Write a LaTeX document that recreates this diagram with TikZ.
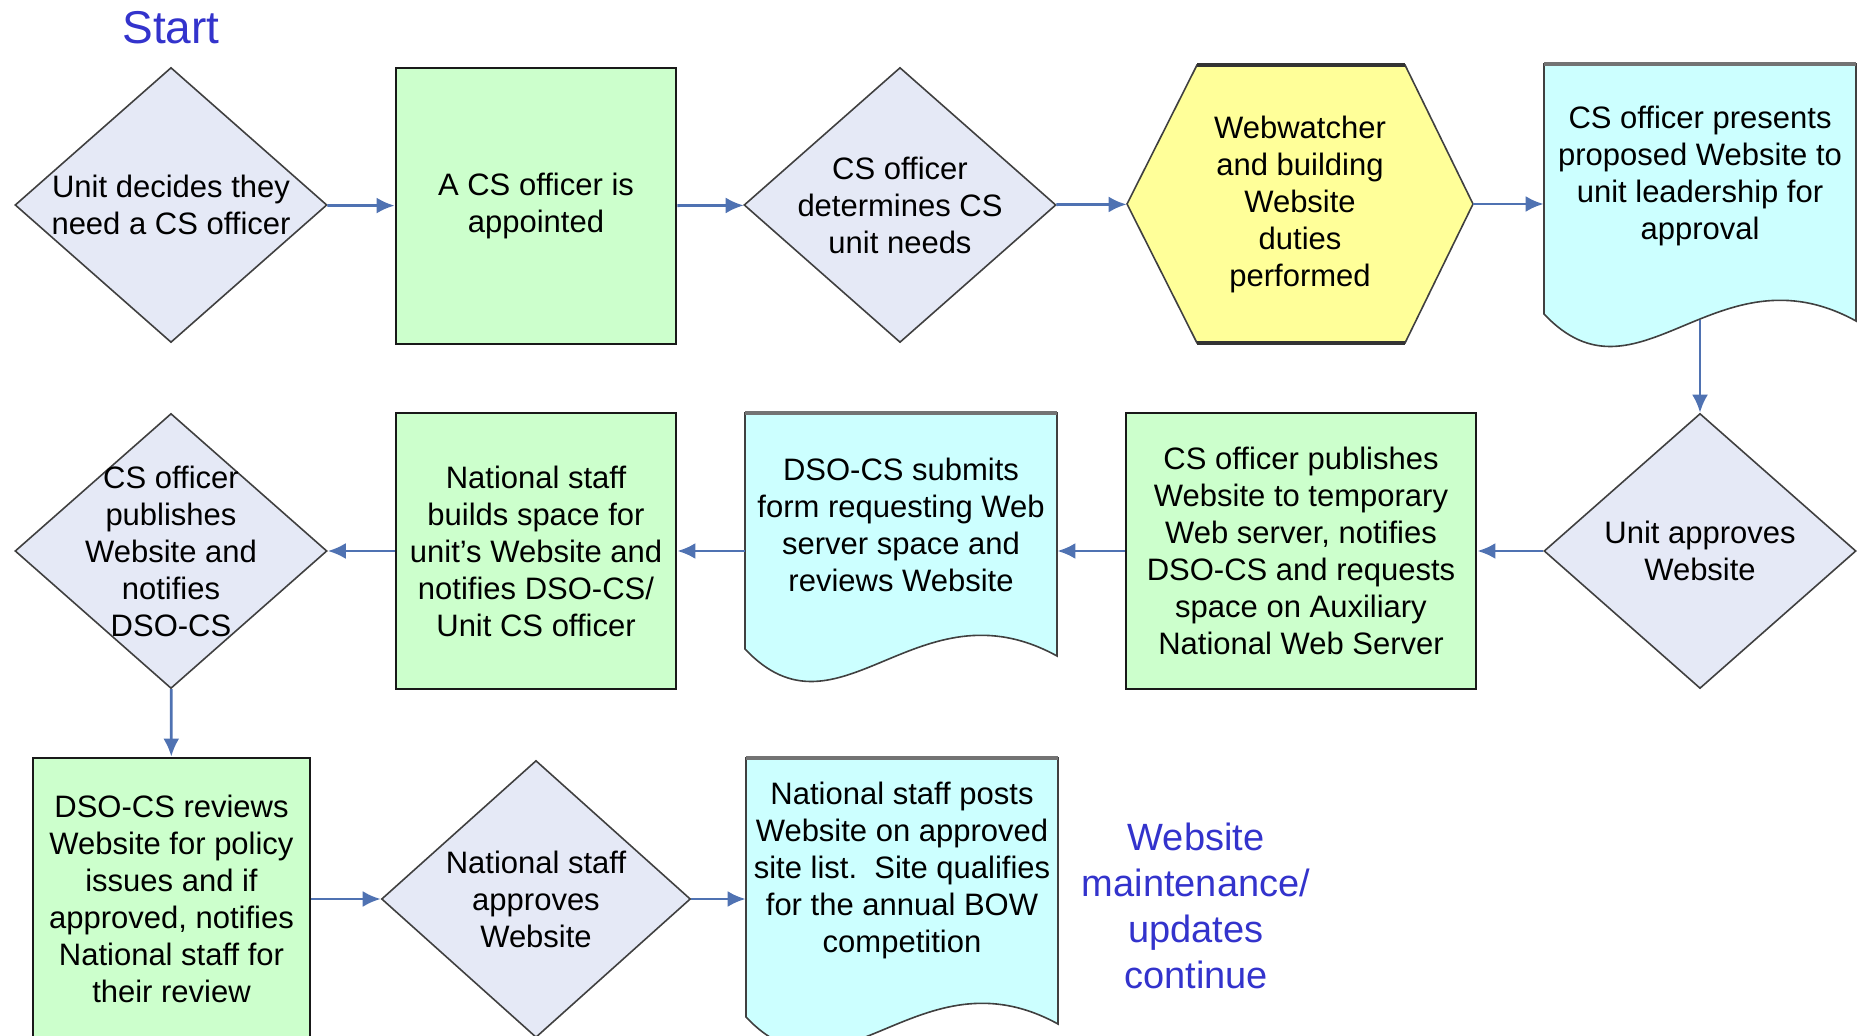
\documentclass[tikz,border=0pt]{standalone}
\usepackage{fontspec}
\setmainfont{Liberation Sans}
\usetikzlibrary{shapes.geometric,arrows.meta,calc}

\definecolor{decfill}{RGB}{229,233,246}
\definecolor{procfill}{RGB}{204,255,204}
\definecolor{docfill}{RGB}{204,255,255}
\definecolor{hexfill}{RGB}{255,255,153}
\definecolor{flowblue}{RGB}{79,114,178}
\definecolor{titleblue}{RGB}{51,51,204}

\newcommand{\boxfont}{\fontsize{15.5}{18.5}\selectfont}

% wavy document: left, top, depth of left end, name, text
\newcommand{\wavedoc}[5]{%
  \begin{scope}[shift={(#1,#2)}]
    \draw[docline] (0,0) -- (312,0) -- (312,#3+7) .. controls (172,#3-70) and (94,#3+100) .. (0,#3) -- cycle;
    \draw[doctop] (0,0) -- (312,0);
    \node[docbody] (#4) at (156,128) {};
    \node[doctext] (#4-text) at (156,112) {#5};
  \end{scope}
}

\begin{document}
\begin{tikzpicture}[x=0.5pt,y=-0.5pt,
  decision/.style={diamond, draw=black!75, line width=0.8pt, fill=decfill, inner sep=0pt,
    minimum width=156pt, minimum height=137.5pt, label={[align=center, font=\boxfont]center:#1}},
  process/.style={rectangle, draw=black!90, line width=1.4pt, fill=procfill, inner sep=0pt,
    minimum width=140pt, minimum height=138pt, align=center, font=\boxfont},
  docline/.style={draw=black!75, line width=0.8pt, fill=docfill},
  doctop/.style={draw=black!55, line width=2pt},
  docbody/.style={rectangle, inner sep=0pt, minimum width=156pt, minimum height=128pt},
  doctext/.style={align=center, font=\boxfont, inner sep=0pt},
  hexline/.style={draw=black!75, line width=0.8pt, fill=hexfill},
  hexbody/.style={rectangle, inner sep=0pt, minimum width=173pt, minimum height=139pt, align=center, font=\boxfont},
  flow/.style={draw=flowblue, line width=1.4pt, -{Latex[length=9pt,width=8pt]}},
  bluetext/.style={text=titleblue, align=center, inner sep=0pt}]

\useasboundingbox (0,0) rectangle (1866,1036);

% Text Node
\node[bluetext, font=\fontsize{23}{27}\selectfont] (start) at (171,28) {Start};

%Row 1
\node[decision={Unit decides they\\need a CS officer}] (d1) at (171,205) {};
\node[process] (appoint) at (536,206) {A CS officer is\\appointed};
\node[decision={CS officer\\determines CS\\unit needs}] (d2) at (900,205) {};
%Shape: Hexagon
\draw[hexline] (1127,204) -- (1197,65) -- (1405,65) -- (1473,204) -- (1405,343) -- (1197,343) -- cycle;
\draw[line width=2pt, black!80] (1197,65) -- (1405,65) (1197,343) -- (1405,343);
\node[hexbody] (hex) at (1300,204) {Webwatcher\\and building\\Website\\duties\\performed};
\wavedoc{1544}{64}{250}{present}{CS officer presents\\proposed Website to\\unit leadership for\\approval}

%Row 2
\node[decision={Unit approves\\Website}] (d4) at (1700,551) {};
\node[process, minimum width=175pt] (temp) at (1301,551) {CS officer publishes\\Website to temporary\\Web server, notifies\\DSO-CS and requests\\space on Auxiliary\\National Web Server};
\wavedoc{745}{413}{236}{submit}{DSO-CS submits\\form requesting Web\\server space and\\reviews Website}
\node[process] (builds) at (536,551) {National staff\\builds space for\\unit's Website and\\notifies DSO-CS/\\Unit CS officer};
\node[decision={CS officer\\publishes\\Website and\\notifies\\DSO-CS}] (d3) at (171,551) {};

%Row 3
\node[process, minimum width=138.5pt, minimum height=141pt] (review) at (171.5,899) {DSO-CS reviews\\Website for policy\\issues and if\\approved, notifies\\National staff for\\their review};
\node[decision={National staff\\approves\\Website}, minimum width=154.5pt, minimum height=138.5pt] (d5) at (536,899) {};
\wavedoc{746}{758}{259}{posts}{National staff posts\\Website on approved\\site list.\ \ Site qualifies\\for the annual BOW\\competition}

% Text Node
\node[bluetext, font=\fontsize{19}{23}\selectfont] (maint) at (1196,906) {Website\\maintenance/\\updates\\continue};

%Connectors
\draw[flow] (d1) -- (appoint);
\draw[flow] (appoint) -- (d2);
\draw[flow] (d2) -- (hex);
\draw[flow] (hex) -- (hex -| present.west);
\draw[flow] (present.south) -- (d4);
\draw[flow] (d4) -- (temp);
\draw[flow] (temp.west) -- (temp.west -| submit.east);
\draw[flow] (builds.east -| submit.west) -- (builds.east);
\draw[flow] (builds) -- (d3);
\draw[flow] (d3) -- (review);
\draw[flow] (review.east |- d5) -- (d5);
\draw[flow] (d5) -- (d5 -| posts.west);

\end{tikzpicture}
\end{document}
